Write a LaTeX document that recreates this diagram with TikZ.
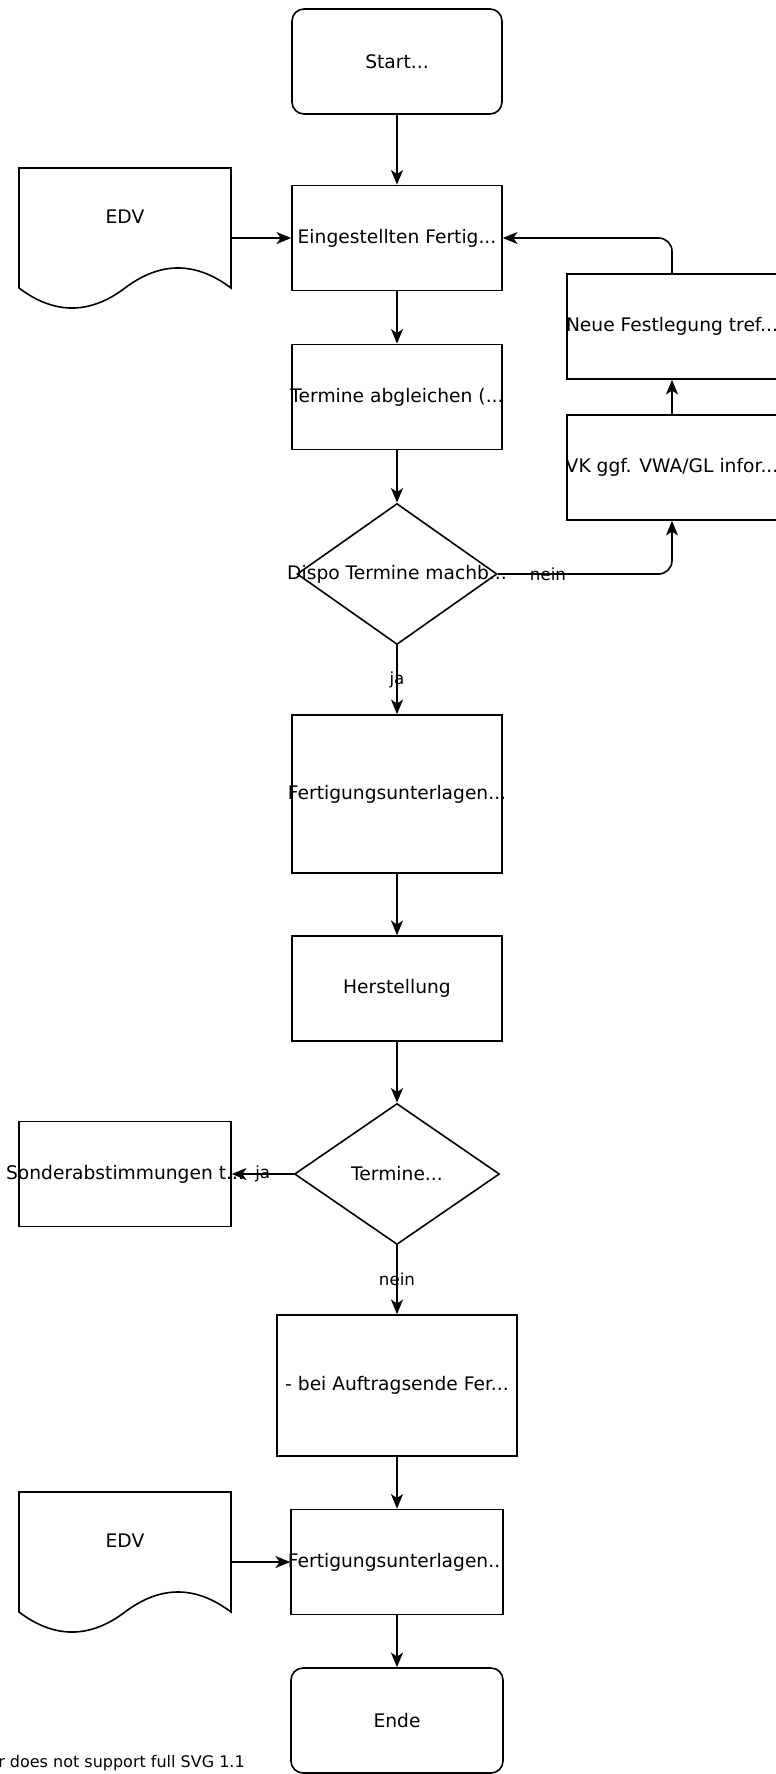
\documentclass[tikz,border=0pt]{standalone}
\usepackage{fontspec}
\setmainfont{DejaVu Sans}
\usetikzlibrary{shapes.geometric,arrows.meta}
\tikzset{
  box/.style={draw, line width=1.2pt, minimum width=157.5pt, minimum height=78.75pt, inner sep=0pt, font=\fontsize{14}{17}\selectfont},
  term/.style={box, rounded corners=9pt},
  decision/.style={draw, diamond, line width=1.2pt, inner sep=0pt, minimum width=150pt, minimum height=105.75pt, font=\fontsize{14}{17}\selectfont},
  flow/.style={line width=1.2pt, -{Stealth[length=11pt,width=9pt,inset=3pt]}},
  lbl/.style={font=\fontsize{12.5}{15}\selectfont, inner sep=1pt},
  docshape/.style={line width=1.2pt}
}
\newcommand{\ovr}[1]{\makebox[0pt]{#1}}
\begin{document}
\begin{tikzpicture}[x=0.75pt, y=-0.75pt]
  \useasboundingbox (0,0) rectangle (775,1774);
  \node[term] (start) at (397,61.5) {\ovr{Start...}};
  \node[box] (eing) at (397,238) {\ovr{Eingestellten Fertig...}};
  \node[box] (abgl) at (397,397) {\ovr{Termine abgleichen (...}};
  \node[decision] (dispo) at (397,574) {\ovr{Dispo Termine machb...}};
  \node[box, minimum height=118.5pt] (fert1) at (397,794) {\ovr{Fertigungsunterlagen...}};
  \node[box] (herst) at (397,988.5) {\ovr{Herstellung}};
  \node[decision, minimum width=153.75pt] (termin) at (397,1174) {\ovr{Termine...}};
  \node[box, minimum width=159pt] (sonder) at (125,1174) {\ovr{Sonderabstimmungen t...}};
  \node[box, minimum width=180pt, minimum height=105.75pt] (auftrag) at (397,1385.5) {\ovr{- bei Auftragsende Fer...}};
  \node[box, minimum width=159pt] (fert2) at (397,1562) {\ovr{Fertigungsunterlagen...}};
  \node[term, minimum width=159pt] (ende) at (397,1720.5) {\ovr{Ende}};
  \node[box] (vk) at (672,467.5) {\ovr{VK ggf. VWA/GL infor...}};
  \node[box] (neue) at (672,326.5) {\ovr{Neue Festlegung tref...}};
  \draw[docshape] (19,168) -- (231,168) -- (231,288)
    .. controls (195.7,261.3) and (160.3,261.3) .. (125,288)
    .. controls (89.7,314.7) and (54.3,314.7) .. (19,288) -- cycle;
  \node[font=\fontsize{14}{17}\selectfont] (edv1) at (125,217) {EDV};
  \coordinate (edv1out) at (231,238);
  \draw[docshape] (19,1492) -- (231,1492) -- (231,1612)
    .. controls (195.7,1585.3) and (160.3,1585.3) .. (125,1612)
    .. controls (89.7,1638.7) and (54.3,1638.7) .. (19,1612) -- cycle;
  \node[font=\fontsize{14}{17}\selectfont] (edv2) at (125,1541) {EDV};
  \coordinate (edv2out) at (231,1562);
  \draw[flow] (start) -- (eing);
  \draw[flow] (edv1out) -- (eing.west);
  \draw[flow] (eing) -- (abgl);
  \draw[flow] (abgl) -- (dispo);
  \draw[flow, rounded corners=10pt] (dispo.east) -| node[lbl, pos=0.144] {nein} (vk.south);
  \draw[flow] (vk) -- (neue);
  \draw[flow, rounded corners=10pt] (neue.north) |- (eing.east);
  \draw[flow] (dispo) -- node[lbl] {ja} (fert1);
  \draw[flow] (fert1) -- (herst);
  \draw[flow] (herst) -- (termin);
  \draw[flow] (termin.west) -- node[lbl] {ja} (sonder.east);
  \draw[flow] (termin) -- node[lbl] {nein} (auftrag);
  \draw[flow] (auftrag) -- (fert2);
  \draw[flow] (edv2out) -- (fert2.west);
  \draw[flow] (fert2) -- (ende);
  \node[anchor=base east, inner sep=0pt, font=\fontsize{12}{14}\selectfont] (note) at (245,1767) {er does not support full SVG 1.1};
\end{tikzpicture}
\end{document}
